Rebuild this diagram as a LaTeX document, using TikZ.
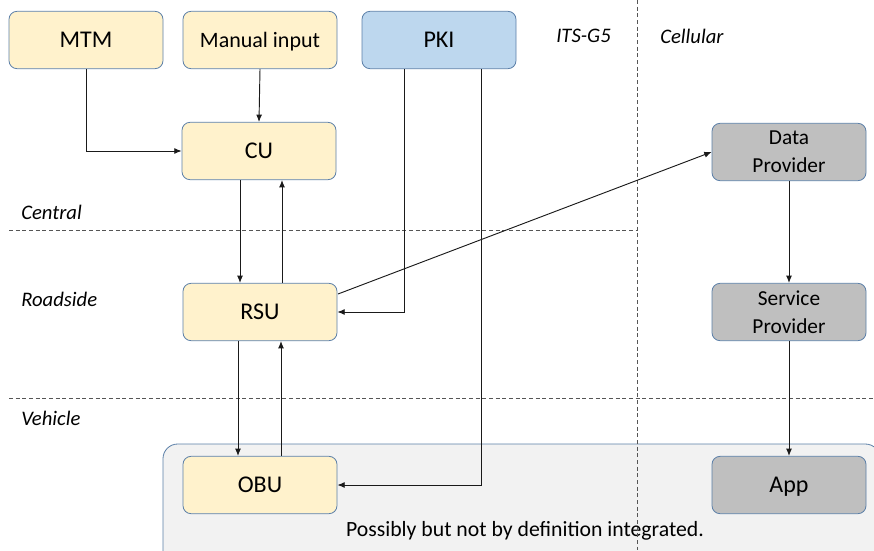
\documentclass[tikz,border=0pt]{standalone}
\usepackage{fontspec}
\setmainfont{Carlito}
\usetikzlibrary{arrows.meta}
\definecolor{boxline}{HTML}{5B7FA8}
\definecolor{yellowfill}{HTML}{FFF2CC}
\definecolor{bluefill}{HTML}{BDD7EE}
\definecolor{greyfill}{HTML}{BFBFBF}
\definecolor{panelfill}{HTML}{F2F2F2}
\definecolor{wire}{HTML}{1A1A1A}
\definecolor{divider}{HTML}{555555}
\begin{document}
\begin{tikzpicture}[x=0.75pt,y=-0.75pt,
  unit/.style={draw=boxline, line width=0.6pt, rounded corners=6pt,
    minimum width=115.5pt, minimum height=43pt, inner sep=2pt,
    align=center, font=\fontsize{18}{21}\selectfont,
    text height=11.6pt, text depth=0pt},
  central/.style={unit, fill=yellowfill},
  trust/.style={unit, fill=bluefill},
  cell/.style={unit, fill=greyfill},
  twoline/.style={font=\fontsize{16}{21}\selectfont, text height=, text depth=},
  zone/.style={anchor=west, inner sep=0pt, font=\fontsize{15.5}{18}\selectfont\itshape},
  link/.style={draw=wire, line width=0.7pt, -{Latex[length=5.5pt,width=4.5pt]}},
  divide/.style={draw=divider, line width=0.6pt, dash pattern=on 3pt off 2pt}]
\useasboundingbox (0,0) rectangle (874,550);
\clip (0,0) rectangle (874,550);

% vehicle panel behind the lower boxes
\draw[fill=panelfill, draw=boxline, line width=0.6pt, rounded corners=11pt]
  (163,444) rectangle (880,575);
\node[font=\fontsize{16.3}{18}\selectfont] (note) at (525,531)
  {Possibly but not by definition integrated.};

% zone dividers
\draw[divide] (637,0) -- (637,550);
\draw[divide] (9,230) -- (637,230);
\draw[divide] (9,398) -- (874,398);

% zone labels
\node[zone] (lg5) at (556,36) {ITS-G5};
\node[zone] (lcell) at (660,36) {Cellular};
\node[zone] (lcentral) at (21,212) {Central};
\node[zone] (lroad) at (21,299) {Roadside};
\node[zone] (lveh) at (21,418) {Vehicle};

% units
\node[central] (mtm) at (86,40) {MTM};
\node[central, font=\fontsize{16.5}{19}\selectfont, text height=10.6pt] (manual) at (260,40) {Manual input};
\node[trust] (pki) at (439,40) {PKI};
\node[central] (cu) at (259,151) {CU};
\node[central] (rsu) at (260,312) {RSU};
\node[central] (obu) at (260,485) {OBU};
\node[cell, twoline] (dp) at (789,152) {Data\\Provider};
\node[cell, twoline] (sp) at (789,312) {Service\\Provider};
\node[cell] (app) at (789,485) {App};

% vertical tracks for the parallel links
\coordinate (xdown1) at (240,0);
\coordinate (xup1) at (282,0);
\coordinate (xdown2) at (238,0);
\coordinate (xup2) at (281,0);
\coordinate (xpki1) at (404,0);
\coordinate (xpki2) at (481,0);
\coordinate (rsuout) at (338,294);

% links
\draw[link] (mtm.south) |- (cu.west);
\draw[link] (manual.south) -- (cu.north);
\draw[link] (cu.south -| xdown1) -- (rsu.north -| xdown1);
\draw[link] (rsu.north -| xup1) -- (cu.south -| xup1);
\draw[link] (rsu.south -| xdown2) -- (obu.north -| xdown2);
\draw[link] (obu.north -| xup2) -- (rsu.south -| xup2);
\draw[link] (pki.south -| xpki1) |- (rsu.east);
\draw[link] (pki.south -| xpki2) |- (obu.east);
\draw[link] (rsuout) -- (dp.west);
\draw[link] (dp.south) -- (sp.north);
\draw[link] (sp.south) -- (app.north);
\end{tikzpicture}
\end{document}
